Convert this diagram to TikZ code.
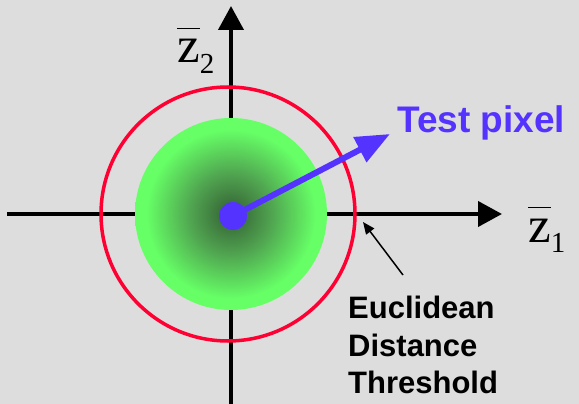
\documentclass[tikz,border=0pt]{standalone}
\usepackage{fontspec}
\setmainfont{Liberation Serif}
\setsansfont{Liberation Sans}
\usetikzlibrary{arrows.meta}
\definecolor{PaperGray}{HTML}{DDDDDD}
\definecolor{GlowGreen}{HTML}{66FF66}
\definecolor{GlowMid}{HTML}{4FA04F}
\definecolor{GlowDark}{HTML}{335E33}
\definecolor{PixelBlue}{HTML}{5533FF}
\definecolor{RingRed}{HTML}{FF0033}
\pgfdeclareradialshading{greenglow}{\pgfpoint{0bp}{0bp}}{%
  color(0bp)=(GlowDark); color(10bp)=(GlowMid); color(22bp)=(GlowGreen); color(50bp)=(GlowGreen)}
\newcommand{\zbar}[1]{$\overline{\hbox{z\rule{0pt}{0.66em}}}_{\hbox{\fontsize{29}{29}\selectfont #1}}$}

\begin{document}
\begin{tikzpicture}[x=1pt,y=-1pt,
    axis/.style={line width=4pt, -{Triangle[length=24pt,width=25pt]}},
    axislabel/.style={anchor=base west, inner sep=0pt, font=\fontsize{51}{51}\selectfont},
    threshtext/.style={anchor=base west, inner sep=0pt, font=\sffamily\bfseries\fontsize{31}{31}\selectfont}]
  \fill[PaperGray] (0,0) rectangle (579,404);
  \useasboundingbox (0,0) rectangle (579,404);
  % axes
  \coordinate (xstart) at (7,214);
  \coordinate (xend) at (502,214);
  \coordinate (ystart) at (231,404);
  \coordinate (yend) at (231,6);
  \draw[axis] (xstart) -- (xend);
  \draw[axis] (ystart) -- (yend);
  \node[axislabel] (zone) at (528,242) {\zbar{1}};
  \node[axislabel] (ztwo) at (177,63) {\zbar{2}};
  % cluster and threshold ring
  \node[circle, minimum size=192pt, inner sep=0pt, shading=greenglow] (cluster) at (231,214) {};
  \node[circle, minimum size=254pt, inner sep=0pt, draw=RingRed, line width=3.5pt] (ring) at (228,214) {};
  % test pixel
  \node[circle, minimum size=28pt, inner sep=0pt, fill=PixelBlue] (pix) at (233,216) {};
  \coordinate (testtip) at (390,134);
  \draw[PixelBlue, line width=6pt, -{Triangle[length=34pt,width=27pt]}] (pix.center) -- (testtip);
  \node[anchor=base west, inner sep=0pt, text=PixelBlue, font=\sffamily\bfseries\fontsize{37}{37}\selectfont] (testlabel) at (397,132) {Test pixel};
  % threshold note
  \node[threshtext] (euc) at (348,318) {Euclidean};
  \node[threshtext] (dist) at (348,356) {Distance};
  \node[threshtext] (thr) at (348,393) {Threshold};
  \coordinate (notetail) at (403,275);
  \coordinate (notetip) at (363,222);
  \draw[line width=1.5pt, -{Triangle[length=12pt,width=10pt]}] (notetail) -- (notetip);
\end{tikzpicture}
\end{document}
